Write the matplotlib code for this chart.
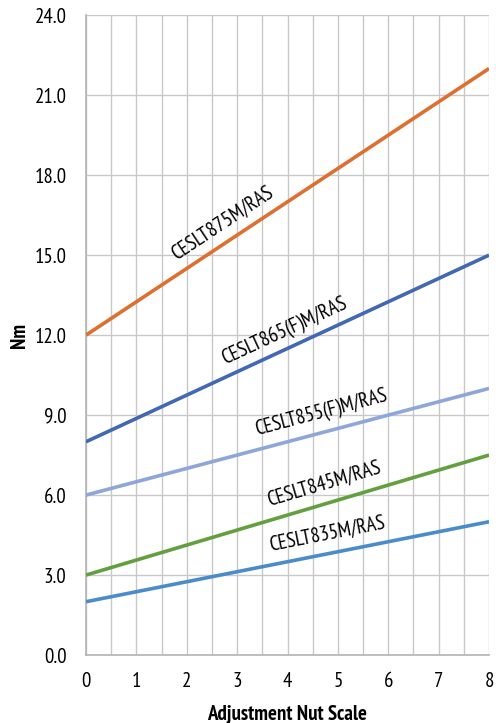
import numpy as np
import matplotlib.pyplot as plt

plt.rcParams['font.family'] = ['PT Sans Narrow', 'DejaVu Sans']

# adjustment nut scale positions
scale = [0, 1, 2, 3, 4, 5, 6, 7, 8]

# torque (Nm) per model, straight lines between min and max setting
models = ['CESLT875M/RAS', 'CESLT865(F)M/RAS', 'CESLT855(F)M/RAS',
          'CESLT845M/RAS', 'CESLT835M/RAS']
nm_start = [12.0, 8.0, 6.0, 3.0, 2.0]
nm_end = [22.0, 15.0, 10.0, 7.5, 5.0]
colors = ['#DD7031', '#4268B3', '#8EA6DA', '#62A03F', '#4A8BCB']

# where each label sits along its line (x on the nut scale, offset above in Nm)
label_x = [2.7, 3.95, 4.68, 4.72, 4.78]
label_dy = [0.8, 0.7, 0.75, 0.75, 0.75]

fig = plt.figure(figsize=(4.96, 7.23), dpi=100)
ax = fig.add_axes([0.1734, 0.094, 0.8126, 0.885])
ax.set_xlim(0, 8)
ax.set_ylim(0, 24)

for name, y0, y1, c, lx, dy in zip(models, nm_start, nm_end, colors, label_x, label_dy):
    ys = np.interp(scale, [scale[0], scale[-1]], [y0, y1])
    ax.plot(scale, ys, color=c, lw=2.6, solid_capstyle='butt', zorder=3)
    ly = y0 + (y1 - y0) * lx / 8.0 + dy
    # rotation from screen slope
    p0 = ax.transData.transform((0, y0))
    p1 = ax.transData.transform((8, y1))
    ang = np.degrees(np.arctan2(p1[1] - p0[1], p1[0] - p0[0]))
    ax.text(lx, ly, name, rotation=ang, rotation_mode='anchor',
            ha='center', va='center', fontsize=14.8, color='black', zorder=4)

ax.set_xticks(np.arange(0, 9, 1))
ax.set_xticks(np.arange(0, 8.5, 0.5), minor=True)
ax.set_yticks(np.arange(0, 25, 3))
ax.set_yticklabels(['%.1f' % v for v in np.arange(0, 25, 3)])
ax.grid(True, which='both', axis='x', color='#C8C8C8', lw=1)
ax.grid(True, which='major', axis='y', color='#C8C8C8', lw=1)
ax.set_axisbelow(True)
for s in ['top', 'right']:
    ax.spines[s].set_visible(False)
for s in ['left', 'bottom']:
    ax.spines[s].set_color('#B4B4B4')
    ax.spines[s].set_linewidth(1.2)
ax.tick_params(axis='both', which='both', length=0, labelsize=15, pad=12)
ax.tick_params(axis='y', pad=14)
ax.set_xlabel('Adjustment Nut Scale', fontsize=15, fontweight='bold', labelpad=10)
ax.set_ylabel('Nm', fontsize=15, fontweight='bold', labelpad=4)

plt.savefig('out.png', dpi=100)
